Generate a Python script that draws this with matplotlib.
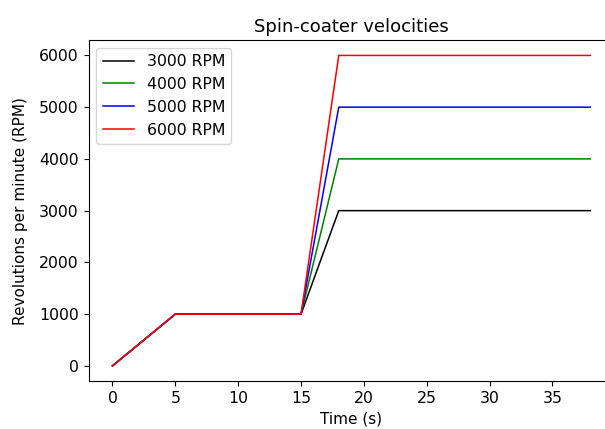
import matplotlib
matplotlib.use("Agg")
import matplotlib.pyplot as plt

# time points of the spin program (s)
time_s = [0, 5, 15, 18, 38]

# final speeds and line colours
final_rpm = [3000, 4000, 5000, 6000]
labels = ["3000 RPM", "4000 RPM", "5000 RPM", "6000 RPM"]
colors = ["k", "g", "b", "r"]

# every program: ramp to 1000, hold, ramp to final, hold
profiles = {
    3000: [0, 1000, 1000, 3000, 3000],
    4000: [0, 1000, 1000, 4000, 4000],
    5000: [0, 1000, 1000, 5000, 5000],
    6000: [0, 1000, 1000, 6000, 6000],
}

plt.rcParams["font.size"] = 11

fig = plt.figure(figsize=(6.05, 4.29), dpi=100)
# the reference is cropped on the right, so the axes run past the figure edge
ax = fig.add_axes([0.1464, 0.111, 0.8686, 0.796])

for rpm, label, c in zip(final_rpm, labels, colors):
    ax.plot(time_s, profiles[rpm], color=c, label=label, linewidth=1.1)

ax.set_xticks([0, 5, 10, 15, 20, 25, 30, 35])
ax.set_yticks([0, 1000, 2000, 3000, 4000, 5000, 6000])
ax.tick_params(labelsize=11.3)
ax.spines["right"].set_visible(False)
ax.set_title("Spin-coater velocities", fontsize=13)
ax.set_xlabel("Time (s)")
ax.set_ylabel("Revolutions per minute (RPM)", labelpad=8)
ax.legend(loc="upper left", fontsize=11.3)

fig.savefig("out.png", dpi=100)
